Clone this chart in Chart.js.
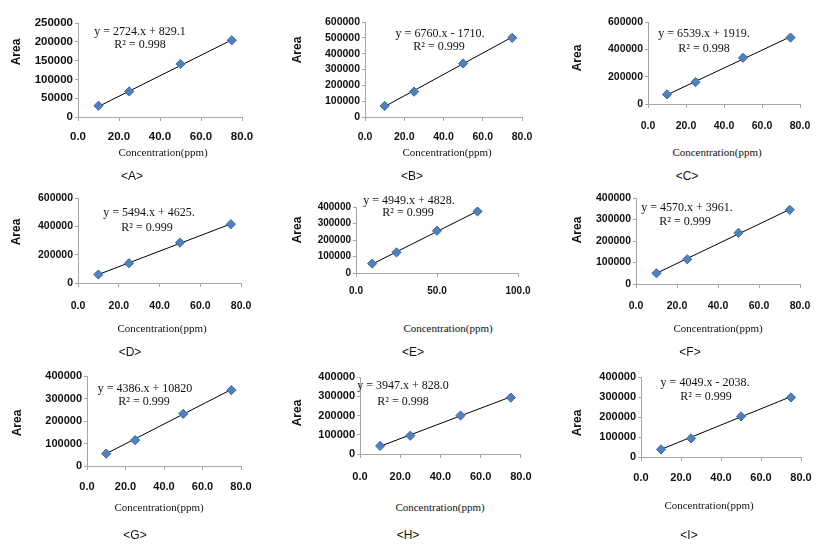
<!DOCTYPE html>
<html><head><meta charset="utf-8">
<script src="https://cdn.jsdelivr.net/npm/chart.js@4.4.1/dist/chart.umd.min.js"></script>
<style>
html,body{margin:0;padding:0;background:#fff;}
#wrap{position:relative;width:827px;height:552px;overflow:hidden;background:#fff;}
#wrap canvas{position:absolute;}
.t{position:absolute;white-space:nowrap;transform:translate(-50%,-50%);color:#111;line-height:1;}
.area{font:bold 12px "Liberation Sans",Arial,sans-serif;transform:translate(-50%,-50%) rotate(-90deg);}
.conc{font:11px "Liberation Serif","Times New Roman",serif;}
.eq{font:12px "Liberation Serif","Times New Roman",serif;}
.lab{font:12px "Liberation Sans",Arial,sans-serif;}
</style></head><body><div id="wrap"></div>
<script>
// ---- data ----
const concentration = [10, 25, 50, 75];
const panelLabels = ['<A>', '<B>', '<C>', '<D>', '<E>', '<F>', '<G>', '<H>', '<I>'];
const areaA = [30000, 68000, 141000, 204000];
const areaB = [70000, 160000, 338000, 500000];
const areaC = [70000, 160000, 338000, 486000];
const areaD = [60000, 140000, 285000, 415000];
const areaE = [57000, 125000, 256000, 373000];
const areaF = [50000, 115000, 238000, 345000];
const areaG = [55000, 115000, 232000, 337000];
const areaH = [42000, 95000, 200000, 293000];
const areaI = [38000, 93000, 203000, 298000];
const trendX = [10, 75];
const trendA = [28000, 205000];
const trendB = [66000, 505000];
const trendC = [67000, 492000];
const trendD = [60000, 417000];
const trendE = [54000, 375000];
const trendF = [50000, 347000];
const trendG = [55000, 340000];
const trendH = [40000, 297000];
const trendI = [38000, 302000];
const equations = ['y = 2724.x + 829.1', 'y = 6760.x - 1710.', 'y = 6539.x + 1919.', 'y = 5494.x + 4625.',
  'y = 4949.x + 4828.', 'y = 4570.x + 3961.', 'y = 4386.x + 10820', 'y = 3947.x + 828.0', 'y = 4049.x - 2038.'];
const r2Labels = ['R² = 0.998', 'R² = 0.999', 'R² = 0.998', 'R² = 0.999', 'R² = 0.999', 'R² = 0.999',
  'R² = 0.999', 'R² = 0.998', 'R² = 0.999'];
const yMax = [250000, 600000, 600000, 600000, 400000, 400000, 400000, 400000, 400000];
const yStep = [50000, 100000, 200000, 200000, 100000, 100000, 100000, 100000, 100000];
const xMax = [80, 80, 80, 80, 100, 80, 80, 80, 80];
const xStep = [20, 20, 20, 20, 50, 20, 20, 20, 20];
const xTitle = 'Concentration(ppm)';
const yTitle = 'Area';

const areas = [areaA, areaB, areaC, areaD, areaE, areaF, areaG, areaH, areaI];
const trends = [trendA, trendB, trendC, trendD, trendE, trendF, trendG, trendH, trendI];

// ---- layout (pixel placement only) ----
const plotBox = [[78,242,23,117],[365,522,22,117],[648,800,22,104],
                 [78,242,198,283],[356,518,207,273],[636,800,198,284],
                 [87,241,376,466],[360,522,377,454],[641,801,377,457]];
const xLabelOffset = [20,20,22,23,18,22,21,23,21];
const tickFont = [11.5,10.5,10.5,10.5,10,10.5,11,11,11];
const titlePos = [[163,152],[447,152],[717,152],[162,328],[448,328],[718,328],[159,507],[440,507],[709,505]];
const labelPos = [[132,176],[412,176],[687,176],[130,352],[413,352],[690,352],[135,535],[408,535],[689,535]];
const areaPos = [[16,52],[297,50],[577,58],[16,232],[297,230],[577,230],[17,423],[297,413],[577,423]];
const eqPos = [[140,31],[440,33],[704,33],[149,212],[409,200],[687,207],[145,388],[403,385],[705,382]];
const r2Pos = [[140,44],[439,46],[704,48],[147,227],[408,212],[685,221],[144,401],[403,401],[706,396]];

const wrap = document.getElementById('wrap');
function addText(txt, pos, cls){
  const d = document.createElement('div');
  d.className = 't ' + cls;
  d.textContent = txt;
  d.style.left = pos[0] + 'px';
  d.style.top = pos[1] + 'px';
  wrap.appendChild(d);
}

function makePanel(i){
  const [x0, x1, yT, yB] = plotBox[i];
  const padL = 4, yAxisW = 66, padT = 12, padR = 22, xAxisH = 40;
  const left = x0 - yAxisW - padL, top = yT - padT;
  const w = x1 + padR - left, h = yB + xAxisH - top;
  const c = document.createElement('canvas');
  c.width = w; c.height = h;
  c.style.left = left + 'px'; c.style.top = top + 'px';
  c.style.width = w + 'px'; c.style.height = h + 'px';
  wrap.appendChild(c);
  const fs = tickFont[i];
  const lh = fs * 1.2;
  new Chart(c, {
    type: 'scatter',
    data: { datasets: [
      { data: concentration.map((x, k) => ({x: x, y: areas[i][k]})),
        pointStyle: 'rectRot', pointRadius: 4.6, pointHoverRadius: 4.6,
        backgroundColor: '#4f81bd', borderColor: '#3b6aa6', borderWidth: 1 },
      { type: 'line', data: trendX.map((x, k) => ({x: x, y: trends[i][k]})),
        borderColor: '#000', borderWidth: 1, pointRadius: 0, fill: false, tension: 0 }
    ]},
    options: {
      responsive: false, animation: false, devicePixelRatio: 1,
      layout: { padding: { left: padL, top: padT, right: padR, bottom: 0 } },
      plugins: { legend: { display: false }, tooltip: { enabled: false } },
      scales: {
        x: { type: 'linear', min: 0, max: xMax[i],
          ticks: { stepSize: xStep[i], autoSkip: false, maxRotation: 0, color: '#111',
            padding: xLabelOffset[i] - 4 - lh / 2,
            font: { family: '"Liberation Sans", Arial, sans-serif', size: fs, weight: 'bold' },
            callback: v => Number(v).toFixed(1) },
          grid: { drawOnChartArea: false, drawTicks: true, tickLength: 4, color: '#a6a6a6' },
          border: { color: '#a6a6a6', width: 1 },
          afterFit: s => { s.height = xAxisH; } },
        y: { type: 'linear', min: 0, max: yMax[i],
          ticks: { stepSize: yStep[i], color: '#111', padding: 2,
            font: { family: '"Liberation Sans", Arial, sans-serif', size: fs, weight: 'bold' },
            callback: v => String(v) },
          grid: { drawOnChartArea: false, drawTicks: true, tickLength: 3, color: '#a6a6a6' },
          border: { color: '#a6a6a6', width: 1 },
          afterFit: s => { s.width = yAxisW; } }
      }
    }
  });
  addText(yTitle, areaPos[i], 'area');
  addText(xTitle, titlePos[i], 'conc');
  addText(equations[i], eqPos[i], 'eq');
  addText(r2Labels[i], r2Pos[i], 'eq');
  addText(panelLabels[i], labelPos[i], 'lab');
}
for (let i = 0; i < 9; i++) makePanel(i);
</script></body></html>
